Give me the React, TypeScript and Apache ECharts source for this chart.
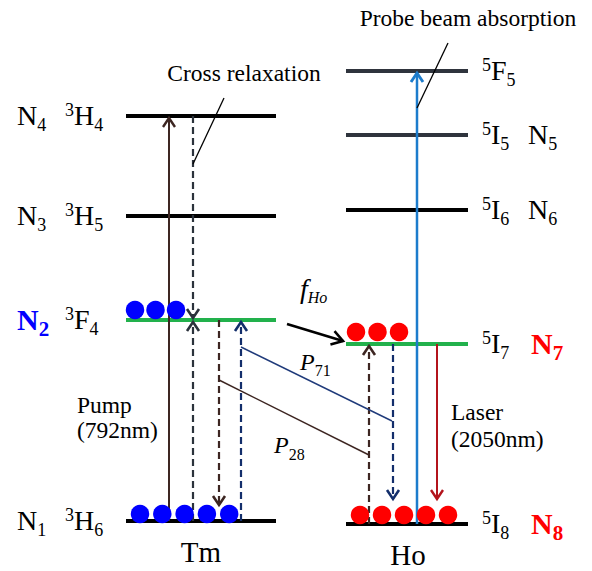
import React, { useEffect, useRef } from 'react';
import * as echarts from 'echarts';

const SERIF = 'Liberation Serif, Times New Roman, serif';

// ---------------- data ----------------
const ionNames = ['Tm', 'Ho'];

const tmTerms = ['3H6', '3F4', '3H5', '3H4'];
const tmPopulations = ['N1', 'N2', 'N3', 'N4'];
const tmEnergies = [0, 201, 305, 405];
const tmDotCounts = [5, 3, 0, 0];

const hoTerms = ['5I8', '5I7', '5I6', '5I5', '5F5'];
const hoPopulations = ['N8', 'N7', 'N6', 'N5', ''];
const hoEnergies = [-3, 177, 311, 386, 450];
const hoDotCounts = [5, 3, 0, 0, 0];

// transitions (ion index, from level, to level, kind)
const transitionIon = [0, 0, 0, 0, 0, 1, 1, 1, 1];
const transitionFrom = [0, 3, 0, 1, 0, 0, 1, 0, 1];
const transitionTo = [3, 1, 1, 0, 1, 1, 0, 4, 0];
const transitionKind = ['pump', 'cross', 'cross', 'p28', 'p71', 'p28', 'p71', 'probe', 'laser'];

// connecting lines (energy-transfer links and pointers)
const linkNames = ['P71', 'P28', 'crossPointer', 'probePointer', 'fHo'];

// ---------------- layout ----------------
const X_MAX = 592;
const Y_MIN = -50;
const Y_MAX = 521;
const levelSpan = [[126, 276], [346, 468]];
const levelColors = [
  ['#000000', '#22b14c', '#000000', '#000000'],
  ['#000000', '#22b14c', '#000000', '#2f343d', '#2f343d'],
];
const popHighlight: Record<string, string> = { N2: '#0000ff', N7: '#ff0000', N8: '#ff0000' };
const popLabelX = [17, 528];
const termLabelX = [65, 482];
const transitionX = [169, 193, 193, 219, 241, 369, 393, 417, 437];
const transitionTipInset = [2, 2, 2, 16, 2, 2, 25, 2, 25];
const dotStartX = [[140, 135], [360, 356]];
const dotStep = [[22.3, 20.5], [22, 21.5]];
const dotLift = [[7, 10], [9, 12]];
const linkCoords = [
  [241, 174, 392, 100],
  [219, 141, 369, 66],
  [193, 357, 224, 423],
  [417, 413, 448, 478],
  [287, 197, 343, 180],
];
const linkColors = ['#1f3a7a', '#3d2622', '#000000', '#000000', '#000000'];
const linkWidths = [1.4, 1.4, 1.3, 1.3, 2.6];
const linkArrow = [false, false, false, false, true];

const kindStyle: Record<string, { color: string; width: number; dash: number[] | null }> = {
  pump: { color: '#3d2622', width: 2, dash: null },
  cross: { color: '#2b323c', width: 2.2, dash: [7, 4] },
  p28: { color: '#3d2622', width: 2.2, dash: [7, 4] },
  p71: { color: '#132e6b', width: 2.2, dash: [7, 4] },
  probe: { color: '#1c7ccc', width: 2.5, dash: null },
  laser: { color: '#b3141c', width: 2, dash: null },
};

type Part = { t: string; size: number; dy?: number; weight?: string; style?: string; color?: string };

const SMALL = 23.5;
const notes: { x: number; e: number; align: 'left' | 'center'; parts: Part[] }[] = [
  { x: 244, e: 440, align: 'center', parts: [{ t: 'Cross relaxation', size: SMALL }] },
  { x: 468, e: 495, align: 'center', parts: [{ t: 'Probe beam absorption', size: SMALL }] },
  { x: 77, e: 108, align: 'left', parts: [{ t: 'Pump', size: SMALL }] },
  { x: 77, e: 83, align: 'left', parts: [{ t: '(792nm)', size: SMALL }] },
  { x: 451, e: 101, align: 'left', parts: [{ t: 'Laser', size: SMALL }] },
  { x: 451, e: 74, align: 'left', parts: [{ t: '(2050nm)', size: SMALL }] },
  { x: 300, e: 151, align: 'left', parts: [{ t: 'P', size: 24, style: 'italic' }, { t: '71', size: 16, dy: 6 }] },
  { x: 274, e: 68, align: 'left', parts: [{ t: 'P', size: 24, style: 'italic' }, { t: '28', size: 16, dy: 7 }] },
  { x: 300, e: 223, align: 'left', parts: [{ t: 'f', size: 28, style: 'italic' }, { t: 'Ho', size: 16, dy: 5, style: 'italic' }] },
  { x: 201, e: -41, align: 'center', parts: [{ t: ionNames[0], size: 29 }] },
  { x: 408, e: -44, align: 'center', parts: [{ t: ionNames[1], size: 29 }] },
];

// ---------------- helpers ----------------
let measureCtx: CanvasRenderingContext2D | null = null;
function textWidth(t: string, size: number, weight = 'normal', style = 'normal') {
  if (!measureCtx) measureCtx = document.createElement('canvas').getContext('2d');
  measureCtx!.font = `${style} ${weight} ${size}px ${SERIF}`;
  return measureCtx!.measureText(t).width;
}

function textRun(x: number, baseline: number, parts: Part[], align: 'left' | 'center' = 'left') {
  const widths = parts.map((p) => textWidth(p.t, p.size, p.weight, p.style));
  const total = widths.reduce((a, b) => a + b, 0);
  let cx = align === 'center' ? x - total / 2 : x;
  return parts.map((p, i) => {
    const el = {
      type: 'text',
      style: {
        text: p.t,
        x: cx,
        y: baseline + (p.dy || 0) - 0.34 * p.size,
        fontSize: p.size,
        fontFamily: SERIF,
        fontWeight: p.weight || 'normal',
        fontStyle: p.style || 'normal',
        fill: p.color || '#000',
        align: 'left',
        verticalAlign: 'middle',
      },
    };
    cx += widths[i];
    return el;
  });
}

const energyOf = (ion: number, i: number) => (ion === 0 ? tmEnergies[i] : hoEnergies[i]);

type Lvl = { ion: number; idx: number; term: string; pop: string; e: number; dots: number };
const levels: Lvl[] = [
  ...tmTerms.map((t, i) => ({ ion: 0, idx: i, term: t, pop: tmPopulations[i], e: tmEnergies[i], dots: tmDotCounts[i] })),
  ...hoTerms.map((t, i) => ({ ion: 1, idx: i, term: t, pop: hoPopulations[i], e: hoEnergies[i], dots: hoDotCounts[i] })),
];

function dotData(ion: number) {
  const out: number[][] = [];
  levels
    .filter((l) => l.ion === ion)
    .forEach((l) => {
      for (let k = 0; k < l.dots; k++) {
        out.push([dotStartX[ion][l.idx] + k * dotStep[ion][l.idx], l.e + dotLift[ion][l.idx]]);
      }
    });
  return out;
}

export default function App() {
  const ref = useRef<HTMLDivElement>(null);
  useEffect(() => {
    if (!ref.current) return;
    const chart = echarts.init(ref.current, undefined, { renderer: 'svg' });
    const option: any = {
      animation: false,
      backgroundColor: '#ffffff',
      grid: { left: 0, right: 0, top: 0, bottom: 0, containLabel: false },
      xAxis: { type: 'value', min: 0, max: X_MAX, show: false },
      yAxis: { type: 'value', min: Y_MIN, max: Y_MAX, show: false },
      series: [
        {
          type: 'custom',
          name: 'levels',
          z: 1,
          data: levels.map((l) => [levelSpan[l.ion][0], l.e]),
          renderItem: (params: any, api: any) => {
            const l = levels[params.dataIndex];
            const a = api.coord([levelSpan[l.ion][0], l.e]);
            const b = api.coord([levelSpan[l.ion][1], l.e]);
            const y = a[1];
            const base = y + 9;
            const children: any[] = [
              {
                type: 'line',
                shape: { x1: a[0], y1: y, x2: b[0], y2: y },
                style: { stroke: levelColors[l.ion][l.idx], lineWidth: 4 },
              },
            ];
            const tx = api.coord([termLabelX[l.ion], l.e])[0];
            children.push(
              ...textRun(tx, base, [
                { t: l.term[0], size: 18, dy: -9 },
                { t: l.term[1], size: 28 },
                { t: l.term.slice(2), size: 18, dy: 6 },
              ])
            );
            if (l.pop) {
              const hc = popHighlight[l.pop];
              const px = api.coord([popLabelX[l.ion] + (hc && l.ion === 1 ? 3 : 0), l.e])[0];
              children.push(
                ...textRun(px, base + (hc ? 1 : 0), [
                  { t: l.pop[0], size: hc ? 30 : 28, weight: hc ? 'bold' : 'normal', color: hc || '#000' },
                  { t: l.pop.slice(1), size: hc ? 21 : 18, dy: 6, weight: hc ? 'bold' : 'normal', color: hc || '#000' },
                ])
              );
            }
            return { type: 'group', children };
          },
        },
        {
          type: 'custom',
          name: 'transitions',
          z: 2,
          data: transitionX.map((x, i) => [x, energyOf(transitionIon[i], transitionTo[i])]),
          renderItem: (params: any, api: any) => {
            const i = params.dataIndex;
            const ion = transitionIon[i];
            const p0 = api.coord([transitionX[i], energyOf(ion, transitionFrom[i])]);
            const p1 = api.coord([transitionX[i], energyOf(ion, transitionTo[i])]);
            const up = p1[1] < p0[1];
            const dir = up ? 1 : -1;
            const tipY = p1[1] + dir * transitionTipInset[i];
            const s = kindStyle[transitionKind[i]];
            const x = p0[0];
            return {
              type: 'group',
              children: [
                {
                  type: 'line',
                  shape: { x1: x, y1: p0[1], x2: x, y2: tipY },
                  style: { stroke: s.color, lineWidth: s.width, lineDash: s.dash || undefined },
                },
                {
                  type: 'polyline',
                  shape: { points: [[x - 6, tipY + dir * 9], [x, tipY], [x + 6, tipY + dir * 9]] },
                  style: { stroke: s.color, lineWidth: s.width + 0.4, fill: 'none' },
                },
              ],
            };
          },
        },
        {
          type: 'custom',
          name: 'links',
          z: 2,
          data: linkCoords.map((c) => [c[0], c[1]]),
          renderItem: (params: any, api: any) => {
            const i = params.dataIndex;
            const c = linkCoords[i];
            const a = api.coord([c[0], c[1]]);
            const b = api.coord([c[2], c[3]]);
            const children: any[] = [
              {
                type: 'line',
                shape: { x1: a[0], y1: a[1], x2: b[0], y2: b[1] },
                style: { stroke: linkColors[i], lineWidth: linkWidths[i] },
              },
            ];
            if (linkArrow[i]) {
              const dx = b[0] - a[0];
              const dy = b[1] - a[1];
              const len = Math.hypot(dx, dy);
              const ux = dx / len;
              const uy = dy / len;
              const bx = b[0] - ux * 11;
              const by = b[1] - uy * 11;
              children.push({
                type: 'polyline',
                shape: { points: [[bx - uy * 7, by + ux * 7], [b[0], b[1]], [bx + uy * 7, by - ux * 7]] },
                style: { stroke: linkColors[i], lineWidth: linkWidths[i], fill: 'none' },
              });
            }
            return { type: 'group', children };
          },
        },
        {
          type: 'scatter',
          name: 'Tm population',
          z: 3,
          symbol: 'circle',
          symbolSize: 18.5,
          itemStyle: { color: '#0000ff', opacity: 1 },
          data: dotData(0),
        },
        {
          type: 'scatter',
          name: 'Ho population',
          z: 3,
          symbol: 'circle',
          symbolSize: 18.5,
          itemStyle: { color: '#ff0000', opacity: 1 },
          data: dotData(1),
        },
        {
          type: 'custom',
          name: 'notes',
          z: 4,
          data: notes.map((n) => [n.x, n.e]),
          renderItem: (params: any, api: any) => {
            const n = notes[params.dataIndex];
            const p = api.coord([n.x, n.e]);
            return { type: 'group', children: textRun(p[0], p[1], n.parts, n.align) };
          },
        },
      ],
    };
    chart.setOption(option);
    return () => chart.dispose();
  }, []);
  return (
    <div
      ref={ref}
      style={{ position: 'absolute', left: 0, top: 0, width: 592, height: 571, background: '#fff' }}
    />
  );
}
